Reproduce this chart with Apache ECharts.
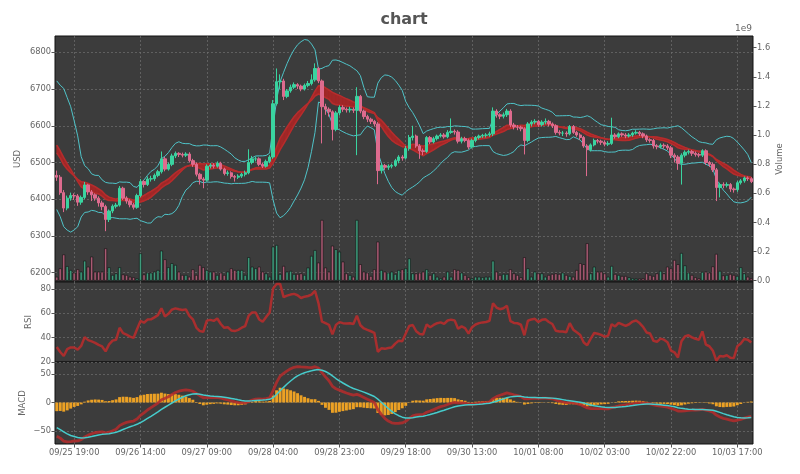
<!DOCTYPE html>
<html><head><meta charset="utf-8">
<script src="https://cdn.jsdelivr.net/npm/echarts@6/dist/echarts.min.js"></script>
<style>html,body{margin:0;padding:0;background:#fff}#c{width:800px;height:474px}</style>
</head><body><div id="c"></div>
<script>
// ---- tick labels ----
const tickIndex = [5,24,43,62,81,100,119,138,157,176,195];
const tickLabels = ['09/25 19:00','09/26 14:00','09/27 09:00','09/28 04:00','09/28 23:00','09/29 18:00','09/30 13:00','10/01 08:00','10/02 03:00','10/02 22:00','10/03 17:00'];
const priceTicks = [6200,6300,6400,6500,6600,6700,6800];
const volumeTicks = [0,0.2,0.4,0.6,0.8,1.0,1.2,1.4,1.6];
const rsiTicks = [20,40,60,80];
const macdTicks = [-50,0,50];

// closes before the visible window (needed by the indicators)
const warmupClose = [6695,6712,6700,6718,6702,6690,6710,6725,6708,6715,6700,6708,6690,6698,6680,6688,
  6670,6678,6660,6668,6650,6660,6642,6652,6636,6645,6632,
  6640,6625,6645,6620,6638,6618,6612,
  6525,6470,6480,6442,6420,6465];

// ---- hourly candles, 09/25 14:00 .. 10/03 21:00 ----
const open = [6465,6460,6418,6376,6403,6410,6409,6392,6405,6439,
6420,6412,6403,6390,6380,6345,6368,6381,6384,6430,
6403,6395,6385,6378,6410,6448,6440,6455,6456,6465,
6475,6510,6482,6495,6518,6525,6522,6520,6523,6505,
6495,6468,6455,6452,6490,6493,6490,6498,6482,6470,
6472,6462,6460,6463,6468,6472,6500,6510,6510,6495,
6490,6503,6515,6660,6720,6722,6680,6695,6705,6712,
6708,6700,6710,6715,6725,6756,6722,6652,6645,6638,
6590,6635,6650,6645,6643,6645,6642,6680,6640,6625,
6618,6612,6605,6478,6492,6487,6490,6492,6505,6515,
6512,6538,6568,6572,6545,6532,6530,6568,6556,6565,
6572,6575,6570,6582,6585,6583,6558,6565,6560,6542,
6560,6568,6572,6574,6575,6578,6640,6630,6626,6630,
6640,6602,6597,6596,6592,6560,6605,6610,6612,6603,
6610,6612,6605,6600,6582,6580,6580,6578,6598,6582,
6575,6568,6545,6535,6548,6560,6558,6555,6550,6552,
6575,6570,6578,6575,6572,6575,6580,6582,6578,6572,
6562,6560,6545,6543,6547,6545,6540,6520,6515,6498,
6520,6528,6530,6525,6522,6520,6532,6500,6495,6480,
6432,6440,6438,6440,6428,6426,6445,6450,6458,6456];
const close = [6460,6418,6376,6403,6410,6409,6392,6405,6439,6420,
6412,6403,6390,6380,6345,6368,6381,6384,6430,6403,
6395,6385,6378,6410,6448,6440,6455,6456,6465,6475,
6510,6482,6495,6518,6525,6522,6520,6523,6505,6495,
6468,6455,6452,6490,6493,6490,6498,6482,6470,6472,
6462,6460,6463,6468,6472,6500,6510,6510,6495,6490,
6503,6515,6660,6720,6722,6680,6695,6705,6712,6708,
6700,6710,6715,6725,6756,6722,6652,6645,6638,6590,
6635,6650,6645,6643,6645,6642,6680,6640,6625,6618,
6612,6605,6478,6492,6487,6490,6492,6505,6515,6512,
6538,6568,6572,6545,6532,6530,6568,6556,6565,6572,
6575,6570,6582,6585,6583,6558,6565,6560,6542,6560,
6568,6572,6574,6575,6578,6640,6630,6626,6630,6640,
6602,6597,6596,6592,6560,6605,6610,6612,6603,6610,
6612,6605,6600,6582,6580,6580,6578,6598,6582,6575,
6568,6545,6535,6548,6560,6558,6555,6550,6552,6575,
6570,6578,6575,6572,6575,6580,6582,6578,6572,6562,
6560,6545,6543,6547,6545,6540,6520,6515,6498,6520,
6528,6530,6525,6522,6520,6532,6500,6495,6480,6432,
6440,6438,6440,6428,6426,6445,6450,6458,6456,6448];
const low = [6450,6412,6365,6370,6396,6398,6382,6385,6400,6412,
6395,6396,6380,6370,6313,6338,6362,6375,6380,6398,
6388,6378,6372,6374,6405,6432,6436,6448,6450,6460,
6470,6476,6478,6490,6512,6515,6514,6515,6500,6488,
6462,6440,6430,6448,6484,6484,6486,6478,6465,6464,
6456,6448,6455,6458,6462,6468,6495,6503,6490,6485,
6486,6498,6510,6655,6700,6670,6675,6690,6700,6700,
6694,6696,6705,6710,6720,6716,6552,6630,6625,6560,
6585,6628,6638,6636,6636,6635,6520,6634,6618,6610,
6605,6598,6441,6470,6480,6480,6484,6488,6498,6505,
6508,6532,6560,6540,6510,6520,6526,6550,6552,6560,
6568,6565,6566,6578,6576,6552,6552,6555,6536,6538,
6555,6563,6567,6568,6570,6572,6622,6618,6620,6624,
6596,6590,6588,6585,6522,6555,6598,6604,6597,6598,
6604,6598,6594,6576,6574,6572,6570,6574,6578,6570,
6562,6540,6463,6530,6544,6552,6548,6544,6545,6548,
6565,6566,6570,6566,6568,6570,6576,6572,6566,6556,
6554,6538,6536,6538,6538,6534,6512,6500,6480,6440,
6514,6522,6518,6516,6514,6515,6494,6488,6474,6395,
6405,6430,6432,6420,6418,6420,6440,6445,6450,6444];
const high = [6478,6466,6425,6410,6418,6416,6414,6410,6447,6442,
6425,6416,6408,6396,6385,6372,6386,6390,6436,6434,
6408,6400,6390,6415,6455,6452,6462,6464,6470,6480,
6530,6515,6500,6524,6530,6528,6527,6528,6528,6510,
6500,6472,6460,6495,6498,6498,6503,6502,6486,6478,
6476,6466,6468,6472,6478,6536,6518,6516,6514,6500,
6508,6520,6670,6756,6740,6728,6700,6712,6718,6716,
6712,6715,6722,6740,6770,6760,6726,6660,6650,6642,
6640,6656,6656,6650,6652,6650,6705,6684,6644,6630,
6622,6616,6610,6497,6496,6495,6497,6510,6520,6520,
6545,6575,6600,6576,6550,6538,6572,6572,6570,6576,
6580,6580,6588,6620,6590,6588,6570,6570,6565,6565,
6572,6576,6578,6580,6584,6650,6645,6634,6636,6646,
6645,6608,6602,6600,6596,6610,6615,6618,6616,6615,
6620,6616,6609,6604,6588,6586,6585,6602,6602,6586,
6580,6572,6550,6552,6565,6564,6562,6560,6558,6622,
6580,6582,6582,6580,6580,6584,6588,6586,6582,6576,
6566,6564,6550,6552,6552,6550,6545,6525,6520,6525,
6533,6535,6534,6530,6526,6536,6536,6504,6500,6485,
6445,6446,6446,6444,6432,6450,6455,6462,6462,6460];
// volume in units of 1e9
const volume = [0.027,0.085,0.18,0.10,0.073,0.055,0.078,0.062,0.137,0.096,
0.165,0.062,0.062,0.062,0.222,0.092,0.039,0.05,0.092,0.043,
0.039,0.027,0.023,0.016,0.188,0.043,0.055,0.055,0.062,0.073,
0.206,0.147,0.092,0.12,0.108,0.062,0.039,0.039,0.027,0.078,
0.039,0.108,0.092,0.073,0.062,0.062,0.039,0.055,0.039,0.062,
0.085,0.073,0.073,0.073,0.039,0.161,0.096,0.085,0.096,0.062,
0.05,0.027,0.234,0.245,0.046,0.101,0.062,0.067,0.046,0.046,
0.05,0.039,0.09,0.17,0.21,0.124,0.417,0.09,0.062,0.24,
0.216,0.199,0.131,0.05,0.039,0.027,0.417,0.113,0.062,0.055,
0.032,0.078,0.268,0.073,0.062,0.055,0.062,0.046,0.073,0.078,
0.085,0.153,0.05,0.05,0.055,0.062,0.078,0.039,0.05,0.027,
0.016,0.027,0.062,0.027,0.078,0.073,0.055,0.039,0.023,0.016,
0.027,0.027,0.023,0.027,0.027,0.137,0.062,0.039,0.046,0.046,
0.078,0.05,0.039,0.023,0.161,0.085,0.027,0.062,0.05,0.05,
0.027,0.039,0.046,0.05,0.046,0.055,0.039,0.032,0.027,0.073,
0.12,0.113,0.257,0.05,0.096,0.062,0.062,0.05,0.027,0.101,
0.046,0.039,0.032,0.032,0.023,0.016,0.014,0.014,0.016,0.05,
0.039,0.032,0.05,0.067,0.05,0.096,0.085,0.142,0.113,0.19,
0.105,0.055,0.039,0.023,0.016,0.06,0.062,0.055,0.098,0.184,
0.067,0.036,0.039,0.046,0.039,0.032,0.092,0.05,0.027,0.016];

// ---- indicators computed from the closes ----
const N = close.length, W = warmupClose.length;
const all = warmupClose.concat(close);
function ema(arr, span){ const a=2/(span+1); const o=[arr[0]]; for(let k=1;k<arr.length;k++) o.push(a*arr[k]+(1-a)*o[k-1]); return o; }
const e12 = ema(all,12), e26 = ema(all,26), e14 = ema(all,14);
const macdAll = e12.map((v,k)=>v-e26[k]);
const sigAll = ema(macdAll,9);
const rsiAll=[50]; let ag=0, al=0;
for(let k=1;k<all.length;k++){ const d=all[k]-all[k-1]; const g=Math.max(d,0), l=Math.max(-d,0);
  if(k===1){ag=g;al=l;} else {ag+= (g-ag)/14; al+=(l-al)/14;}
  rsiAll.push(al===0?100:100-100/(1+ag/al)); }
const BBN=14; const bbUp=[], bbLo=[], bbMid=[];
for(let i=0;i<N;i++){ const w=all.slice(W+i-BBN+1, W+i+1); const m=w.reduce((a,b)=>a+b,0)/BBN;
  const sd=Math.sqrt(w.reduce((a,b)=>a+(b-m)*(b-m),0)/(BBN-1)); bbUp.push(m+2*sd); bbLo.push(m-2*sd); bbMid.push(m); }
const xs = close.map((_,i)=>i);
const at = (arr)=>xs.map(i=>arr[W+i]);
const E14=at(e14), MACD=at(macdAll), SIG=at(sigAll), RSI=at(rsiAll);

const UP='#3ad4a0', DN='#de6b8e', UPV='#3d9c7c', DNV='#aa5a73', CYAN='#4fc3c8', RED='#b52c2c';
const FONT='DejaVu Sans', LBL='#666';
const gridBase={show:true, backgroundColor:'#3c3c3c', borderColor:'#111', borderWidth:1, left:55, right:47};
const split={show:true, lineStyle:{color:'#707070', type:[2,2], width:0.7}};
function xAx(gi, show){ return {type:'value', gridIndex:gi, min:-0.5, max:199.5,
  axisLine:{show:false,onZero:false},
  axisTick:{show:show, customValues:tickIndex, length:3.5, lineStyle:{color:'#555'}},
  axisLabel:{show:show, customValues:tickIndex, fontSize:8.3, color:LBL, fontFamily:FONT, margin:5,
    formatter:(v)=>{const k=tickIndex.indexOf(Math.round(v)); return k>=0?tickLabels[k]:'';}},
  splitLine:split}; }
function yAx(gi, pos, min, max, ticks, name, gap, fmt, sl){ return {type:'value', gridIndex:gi, position:pos, min:min, max:max,
  axisLine:{show:false,onZero:false},
  axisTick:{show:true, customValues:ticks, length:3.5, lineStyle:{color:'#555'}},
  axisLabel:{customValues:ticks, fontSize:8.3, color:LBL, fontFamily:FONT, margin:4, formatter:fmt},
  splitLine: sl?split:{show:false},
  name:name, nameLocation:'middle', nameRotate:90, nameGap:gap, nameMoveOverlap:false,
  nameTextStyle:{fontSize:8.5, color:LBL, fontFamily:FONT}}; }
const noSym={symbol:'none', silent:true, animation:false};
// band between two computed lines, drawn as quads through the axes
function bandSeries(a, b, fill, z){ return {type:'custom', xAxisIndex:0, yAxisIndex:0, z:z, silent:true, animation:false,
  encode:{x:0, y:[1,2]},
  data: xs.slice(0,N-1).map(i=>[i,a[i],b[i],a[i+1],b[i+1]]),
  renderItem:(params, api)=>{ const i=api.value(0);
    const pts=[api.coord([i,api.value(1)]), api.coord([i+1,api.value(3)]), api.coord([i+1,api.value(4)]), api.coord([i,api.value(2)])];
    return {type:'polygon', shape:{points:pts}, style:{fill:fill, stroke:fill, lineWidth:0.6}}; }}; }
const chart = echarts.init(document.getElementById('c'), null, {renderer:'canvas'});
chart.setOption({
  animation:false,
  grid:[Object.assign({top:36,height:246},gridBase), Object.assign({top:282,height:80},gridBase), Object.assign({top:362,height:82},gridBase)],
  xAxis:[xAx(0,false), xAx(1,false), xAx(2,true)],
  yAxis:[
    yAx(0,'left',6174.7,6844.4,priceTicks,'USD',33,(v)=>String(v),true),
    yAx(0,'right',-0.009,1.68,volumeTicks,'Volume',22,(v)=>v.toFixed(1),false),
    yAx(1,'left',20,85.7,rsiTicks,'RSI',22,(v)=>String(v),true),
    yAx(2,'left',-72.8,71,macdTicks,'MACD',28,(v)=>v<0?'\u2212'+(-v):String(v),true)
  ],
  graphic:[
    {type:'text', x:404, y:20, style:{text:'chart', font:'bold 16px "DejaVu Sans"', fill:'#555', textAlign:'center', textVerticalAlign:'middle', align:'center', verticalAlign:'middle'}},
    {type:'text', x:752, y:29, style:{text:'1e9', font:'9px "DejaVu Sans"', fill:'#666', textAlign:'right', textVerticalAlign:'middle', align:'right', verticalAlign:'middle'}}
  ],
  series:[
    Object.assign({type:'line', xAxisIndex:0, yAxisIndex:0, stack:'bb', z:1, lineStyle:{opacity:0}, data:xs.map(i=>[i,bbLo[i]])},noSym),
    Object.assign({type:'line', xAxisIndex:0, yAxisIndex:0, stack:'bb', z:1, lineStyle:{opacity:0}, areaStyle:{color:'rgba(255,255,255,0.13)'}, data:xs.map(i=>[i,bbUp[i]-bbLo[i]])},noSym),
    Object.assign({type:'line', xAxisIndex:0, yAxisIndex:0, z:2, lineStyle:{color:CYAN, width:1}, data:xs.map(i=>[i,bbUp[i]])},noSym),
    Object.assign({type:'line', xAxisIndex:0, yAxisIndex:0, z:2, lineStyle:{color:CYAN, width:1}, data:xs.map(i=>[i,bbLo[i]])},noSym),
    bandSeries(bbMid, E14, 'rgba(170,38,38,0.9)', 3),
    Object.assign({type:'line', xAxisIndex:0, yAxisIndex:0, z:3, lineStyle:{color:RED, width:1.6}, data:xs.map(i=>[i,bbMid[i]])},noSym),
    Object.assign({type:'line', xAxisIndex:0, yAxisIndex:0, z:3, lineStyle:{color:RED, width:1.6}, data:xs.map(i=>[i,E14[i]])},noSym),
    {type:'bar', xAxisIndex:0, yAxisIndex:1, z:4, barWidth:2.9, silent:true, animation:false,
      data:xs.map(i=>({value:[i,volume[i]], itemStyle:{color: close[i]>=open[i]?UPV:DNV, borderColor:'#111', borderWidth:0.6}}))},
    {type:'candlestick', xAxisIndex:0, yAxisIndex:0, z:5, barWidth:2.9, silent:true, animation:false,
      encode:{x:0, y:[1,2,3,4]},
      itemStyle:{color:UP, color0:DN, borderColor:UP, borderColor0:DN, borderWidth:1},
      data:xs.map(i=>[i,open[i],close[i],low[i],high[i]])},
    Object.assign({type:'line', xAxisIndex:1, yAxisIndex:2, z:3, lineStyle:{color:RED, width:2.5, opacity:0.9}, data:xs.map(i=>[i,RSI[i]])},noSym),
    {type:'bar', xAxisIndex:2, yAxisIndex:3, z:2, barWidth:2.9, silent:true, animation:false,
      itemStyle:{color:'#f5a623', opacity:0.95}, data:xs.map(i=>[i,MACD[i]-SIG[i]])},
    Object.assign({type:'line', xAxisIndex:2, yAxisIndex:3, z:3, lineStyle:{color:RED, width:2.8, opacity:0.85}, data:xs.map(i=>[i,MACD[i]])},noSym),
    Object.assign({type:'line', xAxisIndex:2, yAxisIndex:3, z:4, lineStyle:{color:'#46cccc', width:1.5}, data:xs.map(i=>[i,SIG[i]])},noSym)
  ]
});
</script></body></html>
